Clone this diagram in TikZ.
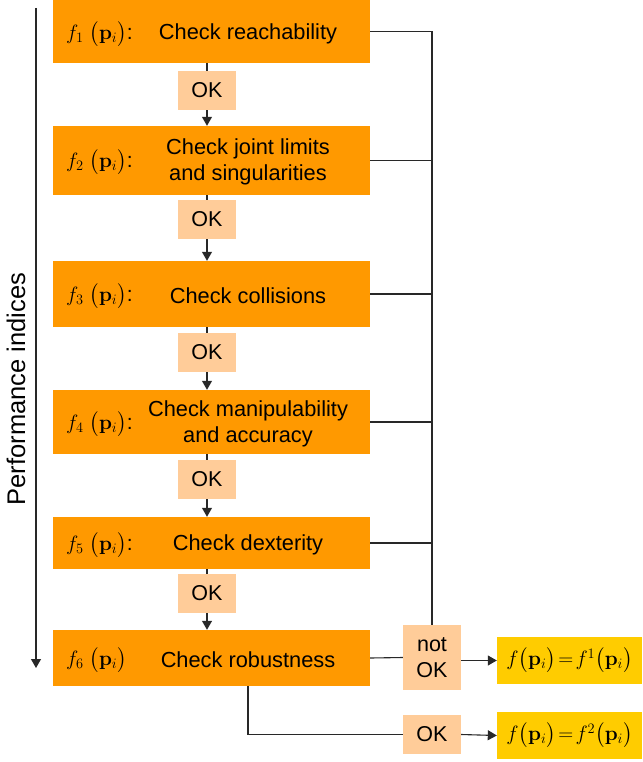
\documentclass[tikz,border=0pt]{standalone}
\usepackage[no-math]{fontspec}
\usepackage{exscale}
\setmainfont{Liberation Sans}
\usetikzlibrary{arrows.meta}
\definecolor{boxorange}{RGB}{255,153,0}
\definecolor{okpeach}{RGB}{255,204,153}
\definecolor{resyellow}{RGB}{255,204,0}
\definecolor{linegray}{RGB}{40,40,40}
\tikzset{
  stagebox/.style={fill=boxorange, draw=none, minimum width=317pt, inner sep=0pt},
  okbox/.style={fill=okpeach, draw=none, minimum width=58pt, inner sep=0pt, align=center, font=\fontsize{21.5}{24}\selectfont},
  resbox/.style={fill=resyellow, draw=none, minimum width=145pt, minimum height=47pt, inner sep=0pt, font=\fontsize{21}{24}\selectfont},
  checktext/.style={align=center, font=\fontsize{21.8}{26}\selectfont, inner sep=0pt},
  flabel/.style={anchor=west, inner sep=0pt, font=\fontsize{21}{24}\selectfont},
  conn/.style={draw=linegray, line width=1.1pt},
  arr/.style={conn, -{Triangle[length=9pt,width=10pt]}}
}
\begin{document}
\begin{tikzpicture}[x=1pt,y=-1pt]
\useasboundingbox (0,0) rectangle (642,762);
% stage boxes
\node[stagebox, minimum height=63pt] (b1) at (211.5,31.5) {};
\node[stagebox, minimum height=69pt] (b2) at (211.5,160.5) {};
\node[stagebox, minimum height=66pt] (b3) at (211.5,294) {};
\node[stagebox, minimum height=64pt] (b4) at (211.5,422) {};
\node[stagebox, minimum height=52pt] (b5) at (211.5,543) {};
\node[stagebox, minimum height=56pt] (b6) at (211.5,658) {};
% texts
\node[checktext] (t1) at (248,33.5) {Check reachability};
\node[checktext] (t2) at (248,162) {Check joint limits\\and singularities};
\node[checktext] (t3) at (248,295.5) {Check collisions};
\node[checktext] (t4) at (248,424) {Check manipulability\\and accuracy};
\node[checktext] (t5) at (248,544.5) {Check dexterity};
\node[checktext] (t6) at (248,660) {Check robustness};
% f labels
\node[flabel] (f1) at (66,34) {$f_1\;\bigl(\mathbf{p}_i\bigr)$:};
\node[flabel] (f2) at (66,162) {$f_2\;\bigl(\mathbf{p}_i\bigr)$:};
\node[flabel] (f3) at (66,296) {$f_3\;\bigl(\mathbf{p}_i\bigr)$:};
\node[flabel] (f4) at (66,424) {$f_4\;\bigl(\mathbf{p}_i\bigr)$:};
\node[flabel] (f5) at (66,545) {$f_5\;\bigl(\mathbf{p}_i\bigr)$:};
\node[flabel] (f6) at (66,660) {$f_6\;\bigl(\mathbf{p}_i\bigr)$};
% OK boxes
\node[okbox, minimum height=39pt] (ok1) at (207,90.5) {OK};
\node[okbox, minimum height=39pt] (ok2) at (207,219.5) {OK};
\node[okbox, minimum height=39pt] (ok3) at (207,352.5) {OK};
\node[okbox, minimum height=39pt] (ok4) at (207,479.5) {OK};
\node[okbox, minimum height=39pt] (ok5) at (207,593.5) {OK};
\node[okbox, minimum height=65pt, font=\fontsize{21.5}{26}\selectfont] (nok) at (432,657.5) {not\\OK};
\node[okbox, minimum height=39pt] (okb) at (432,734.5) {OK};
% result boxes
\node[resbox] (r1) at (569.5,660.5) {$f\bigl(\mathbf{p}_i\bigr)\!=\!f^1\bigl(\mathbf{p}_i\bigr)$};
\node[resbox] (r2) at (569.5,735.5) {$f\bigl(\mathbf{p}_i\bigr)\!=\!f^2\bigl(\mathbf{p}_i\bigr)$};
% vertical chain
\foreach \a/\o/\b in {b1/ok1/b2, b2/ok2/b3, b3/ok3/b4, b4/ok4/b5, b5/ok5/b6}{
  \draw[conn] (\a.south -| \o) -- (\o.north);
  \draw[arr] (\o.south) -- (\b.north -| \o);
}
% right bus
\coordinate (bustop) at (432,31.5);
\draw[conn] (b1.east) -- (bustop) -- (nok.north);
\foreach \b in {b2,b3,b4,b5}{
  \draw[conn] (\b.east) -- (\b.east -| nok);
}
\draw[conn] (b6.east) -- (nok.west);
\draw[arr] (nok.east |- r1) -- (r1.west);
% bottom OK path
\coordinate (bend) at (248,734.5);
\draw[conn] (b6.south -| bend) -- (bend) -- (okb.west);
\draw[arr] (okb.east) -- (r2.west);
% performance indices arrow
\coordinate (pitop) at (36,8);
\coordinate (pibot) at (36,668);
\draw[arr] (pitop) -- (pibot);
\node[rotate=90, font=\fontsize{25.5}{28}\selectfont, inner sep=0pt] (pi) at (16,389) {Performance indices};
\end{tikzpicture}
\end{document}
